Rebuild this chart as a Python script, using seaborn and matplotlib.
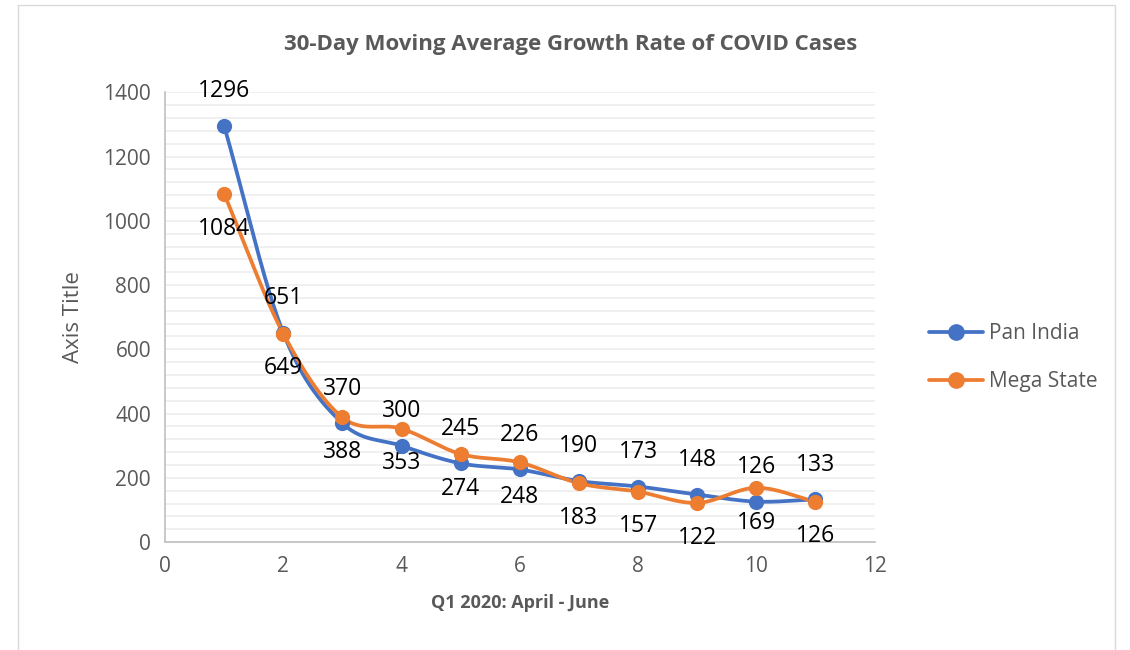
import numpy as np
import pandas as pd
import seaborn as sns
import matplotlib.pyplot as plt
from matplotlib.patches import Rectangle

# 数据
periods = [1, 2, 3, 4, 5, 6, 7, 8, 9, 10, 11]
pan_india = [1296, 651, 370, 300, 245, 226, 190, 173, 148, 126, 133]
mega_state = [1084, 649, 388, 353, 274, 248, 183, 157, 122, 169, 126]
series_names = ['Pan India', 'Mega State']
colors = ['#4472C4', '#ED7D31']


def smooth(x, y, n=30):
    # Catmull-Rom 样条, 近似 Excel 的平滑线
    x = np.asarray(x, float)
    y = np.asarray(y, float)
    px = np.concatenate([[2 * x[0] - x[1]], x, [2 * x[-1] - x[-2]]])
    py = np.concatenate([[2 * y[0] - y[1]], y, [2 * y[-1] - y[-2]]])
    t = np.linspace(0, 1, n)
    xs, ys = [], []
    for i in range(1, len(px) - 2):
        for p, out in ((px, xs), (py, ys)):
            p0, p1, p2, p3 = p[i - 1], p[i], p[i + 1], p[i + 2]
            out.extend(0.5 * ((2 * p1) + (-p0 + p2) * t
                              + (2 * p0 - 5 * p1 + 4 * p2 - p3) * t ** 2
                              + (-p0 + 3 * p1 - 3 * p2 + p3) * t ** 3))
    return np.array(xs), np.array(ys)


sns.set_style('white')
plt.rcParams['font.family'] = ['Open Sans', 'DejaVu Sans']

fig = plt.figure(figsize=(11.3, 6.5), dpi=100)
ax = fig.add_axes([0.146, 0.166, 0.628, 0.692])

# 外框
fig.patches.append(Rectangle((18 / 1130, -0.05), 1097 / 1130, 1.05 - 5 / 650,
                             transform=fig.transFigure, fill=False,
                             edgecolor='#D9D9D9', linewidth=1))

for name, vals, c in zip(series_names, [pan_india, mega_state], colors):
    sx, sy = smooth(periods, vals)
    sns.lineplot(x=sx, y=sy, ax=ax, color=c, linewidth=2.7, sort=False,
                 estimator=None)
    sns.scatterplot(x=periods, y=vals, ax=ax, color=c, s=120, edgecolor=c,
                    linewidth=0, zorder=5)
    ax.plot([], [], color=c, linewidth=2.7, marker='o', markersize=11,
            label=name)

# 数据标签: 蓝色在上, 橙色在下
for xi, v in zip(periods, pan_india):
    ax.annotate(str(v), (xi, v), xytext=(0, 25), textcoords='offset points',
                ha='center', va='center', fontsize=16.5, color='black')
for xi, v in zip(periods, mega_state):
    ax.annotate(str(v), (xi, v), xytext=(0, -25), textcoords='offset points',
                ha='center', va='center', fontsize=16.5, color='black')

ax.set_xlim(0, 12)
ax.set_ylim(0, 1400)
ax.set_xticks(range(0, 13, 2))
ax.set_yticks(range(0, 1401, 200))
ax.set_yticks(range(0, 1401, 40), minor=True)
ax.grid(axis='y', which='both', color='#EDEDED', linewidth=1.2)
ax.grid(axis='x', visible=False)
ax.set_axisbelow(True)
ax.tick_params(axis='both', which='both', length=0, labelsize=15,
               labelcolor='#595959', pad=10)

for s in ['top', 'right']:
    ax.spines[s].set_visible(False)
for s in ['left', 'bottom']:
    ax.spines[s].set_color('#BFBFBF')
    ax.spines[s].set_linewidth(1.2)

ax.set_xlabel('Q1 2020: April - June', fontsize=13, fontweight='bold',
              color='#595959', labelpad=12)
ax.set_ylabel('Axis Title', fontsize=16, color='#595959', labelpad=14)
fig.text(0.505, 0.932, '30-Day Moving Average Growth Rate of COVID Cases',
         ha='center', va='center', fontsize=16, fontweight='bold',
         color='#595959')

ax.legend(loc='center left', bbox_to_anchor=(1.05, 0.41), frameon=False,
          fontsize=15, labelcolor='#595959', handlelength=2.6,
          labelspacing=1.3, handletextpad=0.3)

fig.savefig('out.png', dpi=100)
